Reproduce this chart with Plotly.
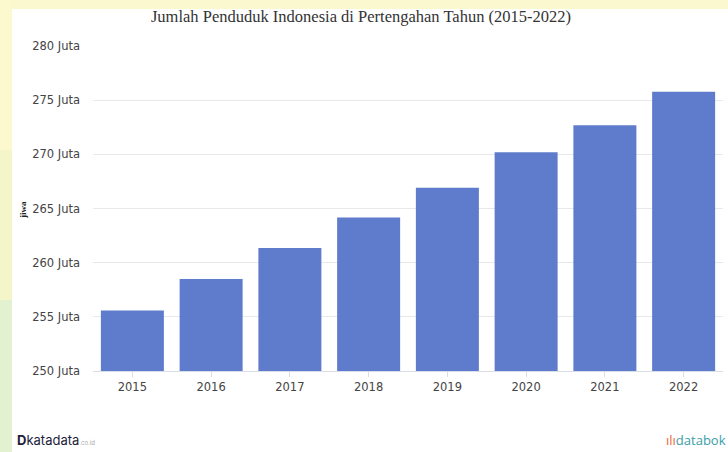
import plotly.graph_objects as go

# Mid-year population of Indonesia, millions
years = ["2015", "2016", "2017", "2018", "2019", "2020", "2021", "2022"]
population = [255.59, 258.50, 261.36, 264.16, 266.91, 270.20, 272.68, 275.77]

y_ticks = [250, 255, 260, 265, 270, 275, 280]
y_tick_labels = [f"{v} Juta" for v in y_ticks]

W, H = 728, 452
ML, MR, MT, MB = 93, 5, 46, 81
PW, PH = W - ML - MR, H - MT - MB


def px_x(px):
    return (px - ML) / PW


def px_y(py):
    return (H - MB - py) / PH


fig = go.Figure()
fig.add_trace(go.Bar(
    x=years,
    y=population,
    marker=dict(color="#5f7bcc", line=dict(width=0)),
    hovertemplate="%{x}: %{y} Juta<extra></extra>",
))

# tinted bands of the backdrop along the left edge
for y0, y1, col in [(0, 150, "#fbf9cd"), (150, 300, "#f4f6c9"), (300, 452, "#e2f1cf")]:
    fig.add_shape(type="rect", xref="paper", yref="paper",
                  x0=px_x(0), x1=px_x(12), y0=px_y(y1), y1=px_y(y0),
                  fillcolor=col, line=dict(width=0), layer="below")

# white card over the pale backdrop
fig.add_shape(type="rect", xref="paper", yref="paper",
              x0=px_x(12), x1=px_x(W), y0=px_y(H), y1=px_y(9),
              fillcolor="white", line=dict(width=0), layer="below")

fig.update_layout(
    width=W, height=H,
    margin=dict(l=ML, r=MR, t=MT, b=MB),
    paper_bgcolor="#fbf8cf",
    plot_bgcolor="white",
    showlegend=False,
    bargap=0.2,
    title=dict(
        text="Jumlah Penduduk Indonesia di Pertengahan Tahun (2015-2022)",
        x=361 / W, xref="container", xanchor="center",
        y=1 - 16 / H, yref="container", yanchor="middle",
        font=dict(family="Liberation Serif", size=16.5, color="#333333"),
    ),
    xaxis=dict(
        type="category",
        showgrid=False,
        showline=True, linecolor="#d8dde8", linewidth=1,
        ticks="outside", ticklen=5, tickcolor="#d8dde8",
        tickfont=dict(family="DejaVu Sans", size=11.5, color="#444444"),
        fixedrange=True,
    ),
    yaxis=dict(
        range=[250, 280],
        tickvals=y_ticks, ticktext=y_tick_labels,
        showgrid=True, gridcolor="#e8e8e8", gridwidth=1,
        zeroline=False, showline=False,
        ticklabelstandoff=12,
        tickfont=dict(family="DejaVu Sans", size=11.5, color="#444444"),
        fixedrange=True,
    ),
    annotations=[
        dict(text="<b>jiwa</b>", xref="paper", yref="paper",
             x=px_x(16), y=px_y(210),
             textangle=-90, showarrow=False,
             font=dict(family="Liberation Serif", size=9, color="#222222")),
        dict(text="<b>D</b>katadata<span style='font-size:6px;color:#aaaaaa'>.co.id</span>",
             xref="paper", yref="paper",
             x=px_x(15), y=px_y(440),
             xanchor="left", yanchor="middle", showarrow=False,
             font=dict(family="Inter", size=13, color="#1d1d3a")),
        dict(text="<span style='color:#e86a3a'>ılı</span>databok",
             xref="paper", yref="paper",
             x=px_x(W), y=px_y(440),
             xanchor="right", yanchor="middle", showarrow=False,
             font=dict(family="Open Sans", size=13, color="#3a9ea8")),
    ],
)

fig.write_html("out.html")
